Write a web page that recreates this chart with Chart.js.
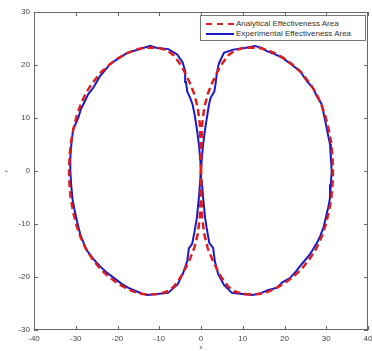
<!DOCTYPE html>
<html>
<head>
<meta charset="utf-8">
<script src="https://cdn.jsdelivr.net/npm/chart.js@4"></script>
<style>
  body { margin: 0; background: #fff; }
  #wrap { position: relative; width: 372px; height: 351px; }
  #legend {
    position: absolute; left: 200px; top: 15px; width: 164px; height: 24px;
    border: 1px solid #777; background: #fff;
    font: 8px "Liberation Sans", Arial, sans-serif; color: #333;
  }
  .row { position: absolute; left: 0; height: 10px; line-height: 10px; white-space: nowrap; }
  .sample { position: absolute; left: 5px; width: 28px; top: 4px; height: 0; }
  .row span { position: absolute; left: 35px; top: 0; }
</style>
</head>
<body>
<div id="wrap">
  <canvas id="chart" width="372" height="351"></canvas>
  <div id="legend">
    <div class="row" style="top:3px"><div class="sample" style="border-top:2.5px dashed rgb(220,30,30)"></div><span>Analytical Effectiveness Area</span></div>
    <div class="row" style="top:13px"><div class="sample" style="border-top:2px solid rgb(25,25,200)"></div><span>Experimental Effectiveness Area</span></div>
  </div>
</div>
<script>
const canvas = document.querySelector("#chart");

// DATA ------------------------------------------

const xTicks = [-40, -30, -20, -10, 0, 10, 20, 30, 40];
const yTicks = [-30, -20, -10, 0, 10, 20, 30];

const anaRightX = [0, 0.1, 0.3, 0.8, 1.6, 2.6, 3.8, 5.0, 6.5, 8.0, 10.0, 12.0, 14.0, 16.0, 18.0, 20.0, 22.0, 24.0, 26.0, 27.5, 28.8, 29.8, 30.6, 31.2, 31.5, 31.6, 31.5, 31.2, 30.6, 29.8, 28.8, 27.5, 26.0, 24.0, 22.0, 20.0, 18.0, 16.0, 14.0, 12.0, 10.0, 8.0, 6.5, 5.0, 3.8, 2.6, 1.6, 0.8, 0.3, 0.1, 0];
const anaRightY = [0, 5, 9, 12, 14.5, 16.5, 18.5, 20.2, 21.8, 22.7, 23.2, 23.3, 23.2, 22.8, 22.1, 21.2, 20.0, 18.6, 16.6, 14.8, 12.6, 10.3, 7.8, 5.2, 2.6, 0, -2.6, -5.2, -7.8, -10.3, -12.6, -14.8, -16.6, -18.6, -20.0, -21.2, -22.1, -22.8, -23.2, -23.3, -23.2, -22.7, -21.8, -20.2, -18.5, -16.5, -14.5, -12, -9, -5, 0];
const anaLeftX = [0, -0.1, -0.3, -0.8, -1.6, -2.6, -3.8, -5.0, -6.5, -8.0, -10.0, -12.0, -14.0, -16.0, -18.0, -20.0, -22.0, -24.0, -26.0, -27.5, -28.8, -29.8, -30.6, -31.2, -31.5, -31.6, -31.5, -31.2, -30.6, -29.8, -28.8, -27.5, -26.0, -24.0, -22.0, -20.0, -18.0, -16.0, -14.0, -12.0, -10.0, -8.0, -6.5, -5.0, -3.8, -2.6, -1.6, -0.8, -0.3, -0.1, 0];
const anaLeftY = [0, 5, 9, 12, 14.5, 16.5, 18.5, 20.2, 21.8, 22.7, 23.2, 23.3, 23.2, 22.8, 22.1, 21.2, 20.0, 18.6, 16.6, 14.8, 12.6, 10.3, 7.8, 5.2, 2.6, 0, -2.6, -5.2, -7.8, -10.3, -12.6, -14.8, -16.6, -18.6, -20.0, -21.2, -22.1, -22.8, -23.2, -23.3, -23.2, -22.7, -21.8, -20.2, -18.5, -16.5, -14.5, -12, -9, -5, 0];

const expRightX = [0, 0.5, 1.0, 1.4, 1.9, 2.3, 3.2, 3.5, 3.8, 4.3, 5.5, 7.7, 10.5, 12.9, 14.5, 15.8, 17.8, 19.6, 21.5, 22.8, 23.7, 24.8, 25.5, 26.8, 27.8, 28.9, 29.4, 30.1, 30.5, 30.9, 31.1, 31.3, 31.1, 30.9, 30.5, 30.1, 29.4, 28.6, 28.0, 26.6, 25.8, 24.2, 22.8, 21.3, 19.5, 18.2, 16.0, 14.5, 12.4, 9.8, 7.4, 5.5, 4.1, 3.3, 2.9, 2.0, 1.4, 1.0, 0.5, 0.2, 0];
const expRightY = [0.5, 5, 8, 10, 12.5, 13.8, 15, 16.5, 18.5, 20.3, 22.3, 22.9, 23.2, 23.6, 23.2, 22.6, 22.0, 21.3, 20.2, 19.4, 18.9, 17.6, 16.8, 15.7, 14.0, 12.6, 10.8, 8.1, 6.5, 5.1, 2.5, 0, -2.5, -5.1, -6.8, -8.1, -10.5, -12.2, -13.2, -15.1, -16.0, -17.5, -18.9, -20.2, -21.0, -22.0, -22.5, -23.0, -23.4, -23.2, -23.0, -21.5, -19.4, -17.0, -14.5, -13.6, -11, -8.9, -5, -1.9, 0.5];
const expLeftX = [0, -0.5, -1.0, -1.5, -2.0, -2.6, -3.3, -3.6, -3.8, -4.4, -5.7, -7.8, -10.5, -12.2, -14.6, -16.0, -17.7, -19.8, -21.8, -23.0, -24.2, -25.0, -25.8, -27.0, -27.8, -28.8, -29.4, -30.6, -31.0, -31.3, -31.3, -31.1, -30.8, -30.3, -29.6, -28.9, -28.0, -27.3, -26.0, -24.3, -22.8, -20.5, -19.0, -17.5, -15.8, -14.2, -12.9, -10.5, -7.9, -5.6, -4.3, -3.3, -2.9, -2.1, -1.5, -1.0, -0.5, -0.2, 0];
const expLeftY = [0.5, 5, 8, 10.5, 12.5, 13.8, 15, 16.8, 18.9, 20.5, 22.0, 23.0, 23.2, 23.6, 23.0, 22.7, 22.3, 21.2, 20.2, 19.0, 17.9, 16.8, 15.7, 14.5, 13.2, 11.6, 10.0, 7.9, 5.5, 2.5, 0, -2.5, -5.2, -7.3, -9.8, -12.0, -13.8, -15.0, -16.4, -17.9, -19.0, -20.4, -21.3, -22.0, -22.6, -23.1, -23.4, -23.2, -23.0, -21.4, -19.3, -17.0, -14.6, -13.7, -11.2, -8.9, -5.0, -1.9, 0.5];

const toPoints = (xs, ys) => xs.map((x, i) => ({ x: x, y: ys[i] }));

const red = "rgb(220, 30, 30)";
const blue = "rgb(25, 25, 200)";

// frame with inward ticks on all four sides, like the original
const frameTicks = {
  id: "frameTicks",
  afterDraw(chart) {
    const ctx = chart.ctx;
    const a = chart.chartArea;
    const xs = chart.scales.x;
    const ys = chart.scales.y;
    ctx.save();
    ctx.strokeStyle = "#666";
    ctx.lineWidth = 1;
    ctx.strokeRect(a.left + 0.5, a.top + 0.5, a.right - a.left - 1, a.bottom - a.top - 1);
    ctx.beginPath();
    xTicks.forEach((v) => {
      const px = Math.round(xs.getPixelForValue(v)) + 0.5;
      ctx.moveTo(px, a.bottom);
      ctx.lineTo(px, a.bottom - 4);
      ctx.moveTo(px, a.top);
      ctx.lineTo(px, a.top + 4);
    });
    yTicks.forEach((v) => {
      const py = Math.round(ys.getPixelForValue(v)) + 0.5;
      ctx.moveTo(a.left, py);
      ctx.lineTo(a.left + 4, py);
      ctx.moveTo(a.right, py);
      ctx.lineTo(a.right - 4, py);
    });
    ctx.stroke();
    ctx.restore();
  },
};

// CHART --------------------------------------------

const lineSet = (label, pts, color, dashed) => ({
  label: label,
  data: pts,
  showLine: true,
  borderColor: color,
  borderWidth: dashed ? 2.5 : 2,
  borderDash: dashed ? [7, 4] : [],
  pointRadius: 0,
  tension: 0,
  fill: false,
});

new Chart(canvas, {
  type: "scatter",
  data: {
    datasets: [
      lineSet("Analytical Effectiveness Area", toPoints(anaRightX, anaRightY), red, true),
      lineSet("Analytical Effectiveness Area", toPoints(anaLeftX, anaLeftY), red, true),
      lineSet("Experimental Effectiveness Area", toPoints(expRightX, expRightY), blue, false),
      lineSet("Experimental Effectiveness Area", toPoints(expLeftX, expLeftY), blue, false),
    ],
  },
  options: {
    responsive: false,
    devicePixelRatio: 1,
    animation: false,
    layout: { padding: { top: 12, right: 4, left: 0, bottom: 0 } },
    plugins: {
      legend: { display: false },
      tooltip: { enabled: false },
    },
    scales: {
      x: {
        type: "linear",
        min: -40,
        max: 40,
        afterBuildTicks: (s) => { s.ticks = xTicks.map((v) => ({ value: v })); },
        afterFit: (s) => {
          s.height = 21;
          s.paddingLeft = 0;
          s.paddingRight = 0;
        },
        grid: { display: false, drawTicks: false },
        border: { display: false },
        ticks: {
          padding: 4,
          color: "#444",
          font: { family: "Liberation Sans", size: 8 },
          maxRotation: 0,
        },
        title: {
          display: true,
          text: "x",
          color: "#444",
          font: { family: "Liberation Sans", size: 6 },
          padding: { top: 0, bottom: 0 },
        },
      },
      y: {
        type: "linear",
        min: -30,
        max: 30,
        afterBuildTicks: (s) => { s.ticks = yTicks.map((v) => ({ value: v })); },
        afterFit: (s) => {
          s.width = 34;
          s.paddingTop = 0;
          s.paddingBottom = 0;
        },
        grid: { display: false, drawTicks: false },
        border: { display: false },
        ticks: {
          padding: 4,
          color: "#444",
          font: { family: "Liberation Sans", size: 8 },
        },
        title: {
          display: true,
          text: "r",
          color: "#444",
          font: { family: "Liberation Sans", size: 6 },
          padding: { top: 3, bottom: 0 },
        },
      },
    },
  },
  plugins: [frameTicks],
});
</script>
</body>
</html>
